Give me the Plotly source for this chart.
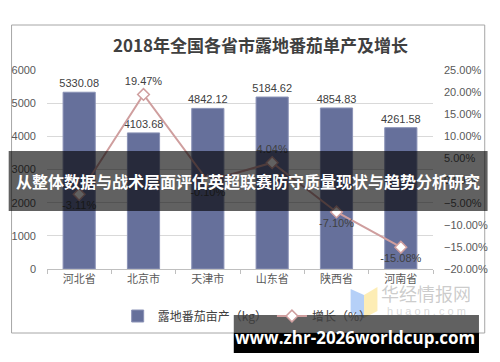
import plotly.graph_objects as go

provinces = ["河北省", "北京市", "天津市", "山东省", "陕西省", "河南省"]
yield_kg = [5330.08, 4103.68, 4842.12, 5184.62, 4854.83, 4261.58]
growth = [-0.0311, 0.1947, -0.0010, 0.0404, -0.0710, -0.1508]

W, H = 500, 362
L, R, T, B = 40, 57, 70, 93
PW, PH = W - L - R, H - T - B


def px(x):
    return (x - L) / PW


def py(y):
    return (H - B - y) / PH


CJK = "Noto Sans CJK SC"
NUM = "Liberation Sans, Noto Sans CJK SC"

fig = go.Figure()
fig.add_trace(go.Bar(
    x=provinces, y=yield_kg, name="露地番茄亩产（kg）",
    marker=dict(color="#66709b", line=dict(color="#8a92b6", width=1)),
    texttemplate="%{y:.2f}", textposition="outside", constraintext="none",
    textfont=dict(family=NUM, size=11, color="#404040"),
    cliponaxis=False, hoverinfo="skip",
))
fig.add_trace(go.Scatter(
    x=provinces, y=growth, name="增长（%）", yaxis="y2",
    mode="lines+markers+text",
    line=dict(color="#cf9e9e", width=2),
    marker=dict(symbol="diamond", size=9, color="white", line=dict(color="#cf9e9e", width=1.5)),
    texttemplate="%{y:.2%}",
    textposition=["top center" if g > 0 else "bottom center" for g in growth],
    textfont=dict(family=NUM, size=11, color="#404040"),
    cliponaxis=False, hoverinfo="skip",
))

shapes = [
    # chart frame
    dict(type="rect", xref="paper", yref="paper", x0=px(3), x1=px(497), y0=py(333), y1=py(25),
         line=dict(color="#a6a6a6", width=1), layer="below"),
    # watermark logo
    dict(type="path", xref="paper", yref="paper",
         path=f"M {px(357)},{py(289)} L {px(371)},{py(295)} L {px(371)},{py(318)} L {px(357)},{py(312)} Z",
         fillcolor="rgba(90,150,240,0.45)", line=dict(width=0), layer="above"),
    dict(type="path", xref="paper", yref="paper",
         path=f"M {px(371)},{py(295)} L {px(385)},{py(287)} L {px(385)},{py(311)} L {px(371)},{py(318)} Z",
         fillcolor="rgba(250,215,90,0.45)", line=dict(width=0), layer="above"),
    # middle banner
    dict(type="rect", xref="paper", yref="paper", x0=px(0), x1=px(500), y0=py(211), y1=py(151),
         fillcolor="rgba(0,0,0,0.62)", line=dict(width=0), layer="above"),
    # bottom banner
    dict(type="rect", xref="paper", yref="paper", x0=px(235), x1=px(491), y0=py(333), y1=py(315),
         fillcolor="rgba(0,0,0,0.62)", line=dict(width=0), layer="above"),
    dict(type="rect", xref="paper", yref="paper", x0=px(235), x1=px(491), y0=py(353), y1=py(333),
         fillcolor="#000000", line=dict(width=0), layer="above"),
]


def ann(text, x, y, font):
    return dict(text=text, xref="paper", yref="paper", x=px(x), y=py(y),
                xanchor="center", yanchor="middle", showarrow=False, font=font)


annotations = [
    ann("华经情报网", 436, 293, dict(family=CJK, size=18, color="rgba(170,170,170,0.6)")),
    ann("h u a o n . c o m", 436, 311, dict(family=NUM, size=11, color="rgba(190,190,190,0.6)")),
    ann("<b>从整体数据与战术层面评估英超联赛防守质量现状与趋势分析研究</b>", 250, 181,
        dict(family=CJK, size=16, color="white")),
    ann("<b>www.zhr-2026worldcup.com</b>", 362, 337,
        dict(family="Open Sans", size=17, color="white")),
]

fig.update_layout(
    width=W, height=H,
    margin=dict(l=L, r=R, t=T, b=B, pad=0),
    paper_bgcolor="white", plot_bgcolor="white",
    hovermode=False,
    title=dict(text="<b>2018年全国各省市露地番茄单产及增长</b>", x=px(250), xanchor="center",
               y=1 - 46 / H, yanchor="middle", font=dict(family=CJK, size=17, color="#404040")),
    bargap=0.5,
    showlegend=True,
    legend=dict(orientation="h", x=px(249), xanchor="center", y=py(316), yanchor="middle",
                font=dict(family=CJK, size=12, color="#404040"), bgcolor="rgba(0,0,0,0)",
                traceorder="normal"),
    xaxis=dict(type="category", showline=True, linecolor="#bfbfbf", linewidth=1,
               ticks="outside", tickson="boundaries", ticklen=4, tickcolor="#bfbfbf",
               tickfont=dict(family=CJK, size=11, color="#595959"), showgrid=False),
    yaxis=dict(range=[0, 6000], dtick=1000, showgrid=True, gridcolor="#d9d9d9", gridwidth=1,
               zeroline=False, showline=False, ticks="", ticklabelstandoff=10,
               tickfont=dict(family=NUM, size=11, color="#595959")),
    yaxis2=dict(range=[-0.2, 0.25], overlaying="y", side="right",
                tickvals=[0.25, 0.2, 0.15, 0.1, 0.05, 0, -0.05, -0.1, -0.15, -0.2],
                tickformat=".2%", showgrid=False, zeroline=False, showline=False, ticks="",
                ticklabelstandoff=10,
                tickfont=dict(family=NUM, size=11, color="#595959")),
    shapes=shapes,
    annotations=annotations,
)

fig.write_html("out.html", config={"displayModeBar": False},
               post_script="document.body.style.margin='0';document.body.style.overflow='hidden';")
